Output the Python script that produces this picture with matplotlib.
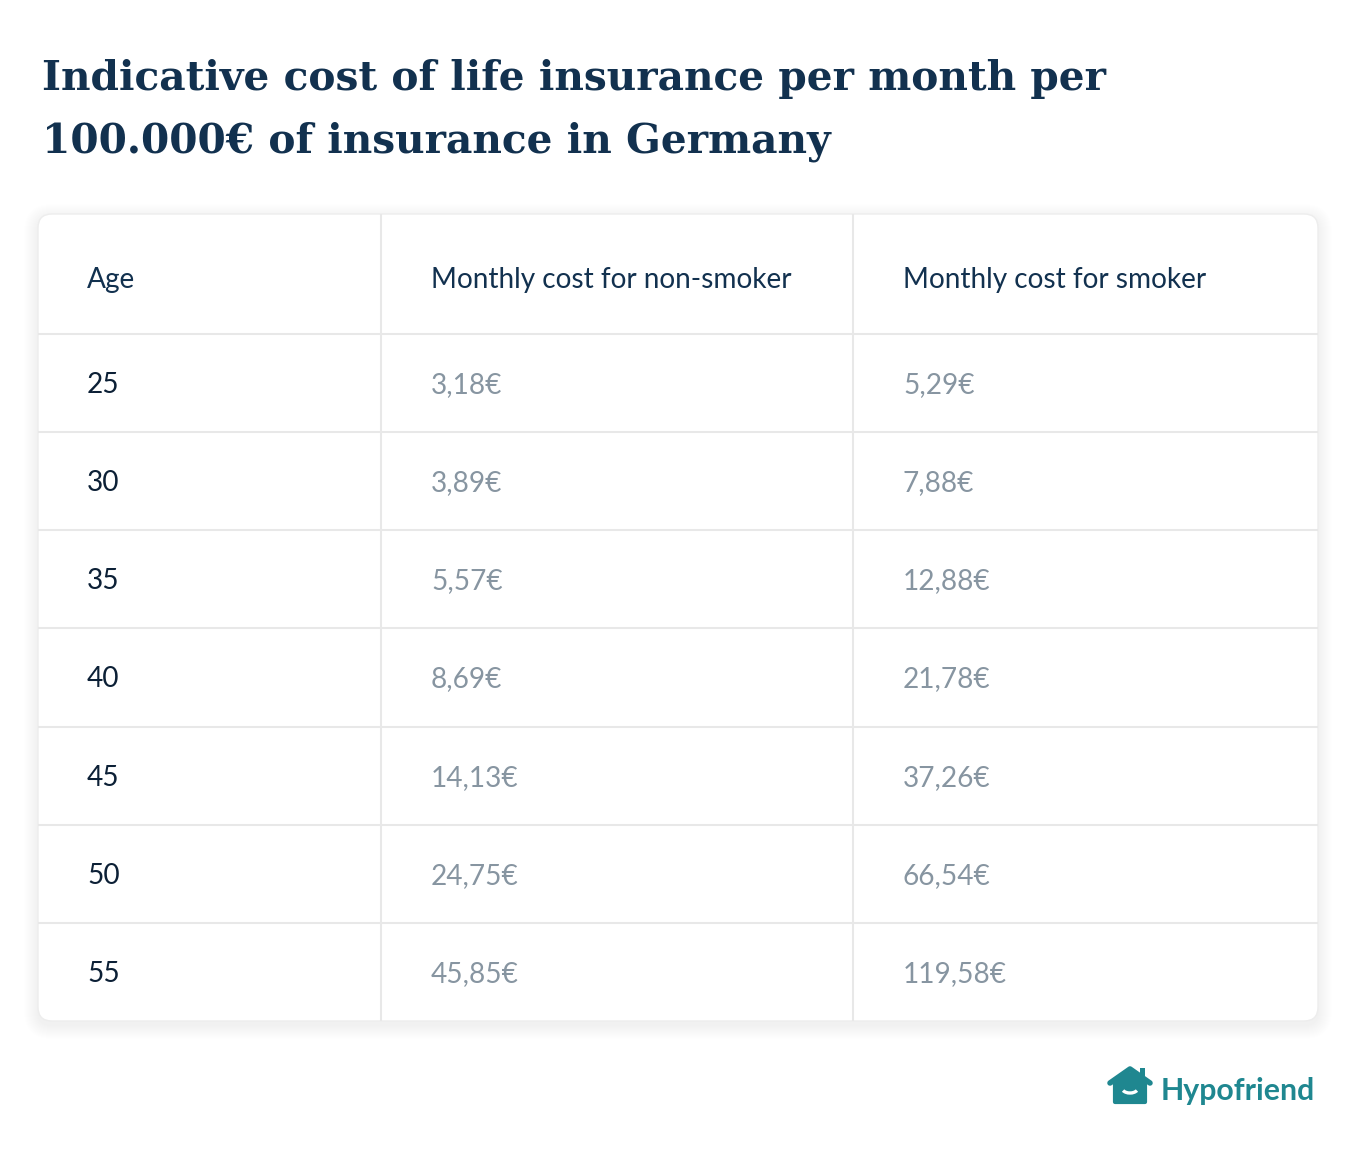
import matplotlib.pyplot as plt
from matplotlib.patches import FancyBboxPatch, Polygon, Arc, Rectangle

ages = ["25", "30", "35", "40", "45", "50", "55"]
non_smoker = ["3,18€", "3,89€", "5,57€", "8,69€", "14,13€", "24,75€", "45,85€"]
smoker = ["5,29€", "7,88€", "12,88€", "21,78€", "37,26€", "66,54€", "119,58€"]
headers = ["Age", "Monthly cost for non-smoker", "Monthly cost for smoker"]
title_lines = ["Indicative cost of life insurance per month per",
               "100.000€ of insurance in Germany"]

W, H = 1356, 1154
navy = "#12314f"
dark = "#0c2036"
grey = "#8795a1"
teal = "#1f8790"
line_c = "#e8e8e8"

fig = plt.figure(figsize=(W / 100, H / 100), dpi=100)
ax = fig.add_axes([0, 0, 1, 1])
ax.set_xlim(0, W)
ax.set_ylim(H, 0)
ax.axis("off")

# title
for yb, line in zip([90, 153], title_lines):
    ax.text(42, yb, line, fontsize=29.3, fontweight="bold", family="DejaVu Serif",
            color=navy, va="baseline", ha="left")

# card geometry
x0, x1 = 38, 1318
y_top, y_head, y_bot = 214, 334, 1021
col_x = [38, 381, 853, 1318]
text_x = [87, 431, 903]
n = len(ages)
row_h = (y_bot - y_head) / n

# soft shadow
for i in range(14, 0, -1):
    ax.add_patch(FancyBboxPatch((x0 - i, y_top - i + 4), x1 - x0 + 2 * i, y_bot - y_top + 2 * i,
                                boxstyle="round,pad=0,rounding_size=%d" % (14 + i),
                                fc="#000000", ec="none", alpha=0.005))
ax.add_patch(FancyBboxPatch((x0, y_top), x1 - x0, y_bot - y_top,
                            boxstyle="round,pad=0,rounding_size=14",
                            fc="white", ec="#ededed", lw=1.0))

# grid lines
for cx in col_x[1:3]:
    ax.plot([cx, cx], [y_top, y_bot], color=line_c, lw=1.5, solid_capstyle="butt")
for i in range(n):
    yy = y_head + i * row_h
    ax.plot([x0, x1], [yy, yy], color=line_c, lw=1.5, solid_capstyle="butt")

body_font = ["Lato", "DejaVu Sans"]
for tx, h in zip(text_x, headers):
    ax.text(tx, 288, h, fontsize=20.2, family=body_font,
            color=navy, va="baseline", ha="left")

for i in range(n):
    yb = y_head + i * row_h + 59
    ax.text(text_x[0], yb, ages[i], fontsize=20.2, family=body_font, color=dark, va="baseline")
    ax.text(text_x[1], yb, non_smoker[i], fontsize=20.2, family=body_font, color=grey, va="baseline")
    ax.text(text_x[2], yb, smoker[i], fontsize=20.2, family=body_font, color=grey, va="baseline")

# logo
ax.add_patch(Rectangle((1140, 1068), 5, 9, fc=teal, ec="none"))
house = Polygon([(1115, 1084), (1130, 1074), (1145, 1084), (1145, 1102), (1115, 1102)],
                closed=True, fc=teal, ec=teal, lw=3, joinstyle="round")
ax.add_patch(house)
ax.plot([1110, 1130, 1150], [1083, 1069, 1083], color=teal, lw=4, solid_capstyle="round",
        solid_joinstyle="round")
ax.add_patch(Arc((1130, 1088), 16, 10, theta1=20, theta2=160, color="white", lw=2.4))
ax.text(1161, 1100, "Hypofriend", fontsize=21.8, fontweight="bold", family=body_font,
        color=teal, va="baseline", ha="left")

fig.savefig("out.png", dpi=100)
